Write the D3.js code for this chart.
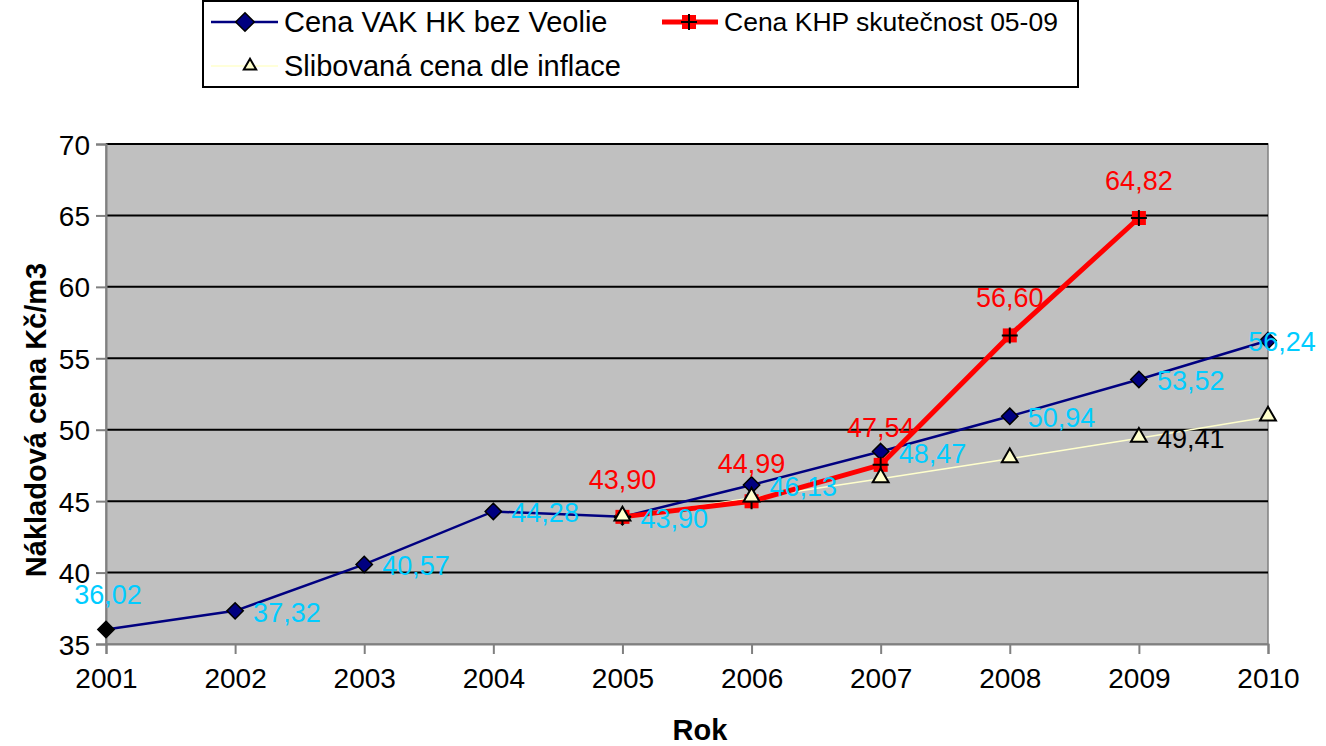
<!DOCTYPE html>
<html>
<head>
<meta charset="utf-8">
<script src="https://cdn.jsdelivr.net/npm/d3@7"></script>
<style>
	body { margin: 0; background: #fff; }
	text { font-family: "Liberation Sans", Arial, sans-serif; }
</style>
</head>
<body>
<div id="chart"></div>
<script>

var years = ["2001", "2002", "2003", "2004", "2005", "2006", "2007", "2008", "2009", "2010"];
var vakValues = [36.02, 37.32, 40.57, 44.28, 43.90, 46.13, 48.47, 50.94, 53.52, 56.24];
var khpYears = ["2005", "2006", "2007", "2008", "2009"];
var khpValues = [43.90, 44.99, 47.54, 56.60, 64.82];
var inflYears = ["2005", "2006", "2007", "2008", "2009", "2010"];
var inflValues = [43.90, 45.22, 46.57, 47.97, 49.41, 50.89];
var yTicks = [35, 40, 45, 50, 55, 60, 65, 70];

var W = 1326, H = 746,
	plot = {left: 106, right: 1268, top: 144, bottom: 644};

var fmt = function(v) { return v.toFixed(2).replace(".", ","); };

var svg = d3.select("#chart").append("svg")
	.attr("width", W)
	.attr("height", H);

var x = d3.scalePoint().domain(years).range([plot.left, plot.right]);
var y = d3.scaleLinear().domain([35, 70]).range([plot.bottom, plot.top]);

// plot background
svg.append("rect")
	.attr("x", plot.left).attr("y", plot.top)
	.attr("width", plot.right - plot.left).attr("height", plot.bottom - plot.top)
	.attr("fill", "#c0c0c0")
	.attr("stroke", "#808080").attr("stroke-width", 1.5);

// grid lines
svg.append("g").selectAll("line")
	.data(yTicks.filter(function(d) { return d > 35; }))
	.enter().append("line")
	.attr("x1", plot.left).attr("x2", plot.right)
	.attr("y1", function(d) { return y(d); }).attr("y2", function(d) { return y(d); })
	.attr("stroke", "#000").attr("stroke-width", 2);

// axes
var yAxis = svg.append("g")
	.attr("transform", "translate(" + plot.left + ",0)")
	.call(d3.axisLeft(y).tickValues(yTicks).tickSize(10).tickPadding(6));

var xAxis = svg.append("g")
	.attr("transform", "translate(0," + plot.bottom + ")")
	.call(d3.axisBottom(x).tickSize(10).tickPadding(14));

[yAxis, xAxis].forEach(function(a) {
	a.select(".domain").attr("stroke", "#808080").attr("stroke-width", 2);
	a.selectAll(".tick line").attr("stroke", "#808080").attr("stroke-width", 2);
	a.selectAll(".tick text").attr("fill", "#000").style("font-size", "28px")
		.style("font-family", "'Liberation Sans', Arial, sans-serif");
});
yAxis.selectAll(".tick text").attr("dy", "0.36em");
xAxis.selectAll(".tick text").attr("dy", "0.71em");

// axis titles
svg.append("text")
	.attr("x", (plot.left + plot.right) / 2 + 13).attr("y", 740)
	.attr("text-anchor", "middle")
	.style("font-size", "29px").style("font-weight", "bold")
	.text("Rok");

svg.append("text")
	.attr("transform", "translate(46," + ((plot.top + plot.bottom) / 2 + 26) + ") rotate(-90)")
	.attr("text-anchor", "middle")
	.style("font-size", "29px").style("font-weight", "bold")
	.text("Nákladová cena Kč/m3");

var line = d3.line()
	.x(function(d) { return x(d[0]); })
	.y(function(d) { return y(d[1]); });

var vak = d3.zip(years, vakValues),
	khp = d3.zip(khpYears, khpValues),
	infl = d3.zip(inflYears, inflValues);

var diamond = d3.symbol().type(d3.symbolDiamond2).size(170);
var triangle = d3.symbol().type(d3.symbolTriangle2).size(180);

// inflation series
svg.append("path").datum(infl)
	.attr("d", line).attr("fill", "none")
	.attr("stroke", "#ffffcc").attr("stroke-width", 1.5);

// VAK series
svg.append("path").datum(vak)
	.attr("d", line).attr("fill", "none")
	.attr("stroke", "#000080").attr("stroke-width", 2.5);

// KHP series
svg.append("path").datum(khp)
	.attr("d", line).attr("fill", "none")
	.attr("stroke", "#ff0000").attr("stroke-width", 5);

function drawSquarePlus(g, px, py) {
	g.append("rect")
		.attr("x", px - 7).attr("y", py - 7).attr("width", 14).attr("height", 14)
		.attr("fill", "#ff0000");
	g.append("path")
		.attr("d", "M" + (px - 8) + "," + py + "H" + (px + 8) + "M" + px + "," + (py - 8) + "V" + (py + 8))
		.attr("stroke", "#000").attr("stroke-width", 2);
}

// VAK markers
svg.append("g").selectAll("path")
	.data(vak).enter().append("path")
	.attr("d", diamond)
	.attr("transform", function(d) { return "translate(" + x(d[0]) + "," + y(d[1]) + ")"; })
	.attr("fill", function(d, i) { return i === 0 ? "#000" : "#000080"; })
	.attr("stroke", "#000").attr("stroke-width", 1.5);

// KHP markers
var khpG = svg.append("g");
khp.forEach(function(d) { drawSquarePlus(khpG, x(d[0]), y(d[1])); });

// inflation markers
svg.append("g").selectAll("path")
	.data(infl).enter().append("path")
	.attr("d", triangle)
	.attr("transform", function(d) { return "translate(" + x(d[0]) + "," + (y(d[1]) - 1) + ")"; })
	.attr("fill", "#ffffcc")
	.attr("stroke", "#000").attr("stroke-width", 2);

// labels
svg.append("g").selectAll("text")
	.data(vak).enter().append("text")
	.attr("x", function(d, i) {
		if (i === 0) return x(d[0]) + 2;
		if (i === vak.length - 1) return x(d[0]) + 14;
		return x(d[0]) + 18;
	})
	.attr("y", function(d, i) {
		if (i === 0) return y(d[1]) - 25;
		if (i === vak.length - 1) return y(d[1]) + 10;
		return y(d[1]) + 11;
	})
	.attr("text-anchor", function(d, i) { return (i === 0 || i === vak.length - 1) ? "middle" : "start"; })
	.attr("fill", "#00ccff")
	.style("font-size", "27px")
	.text(function(d) { return fmt(d[1]); });

svg.append("g").selectAll("text")
	.data(khp).enter().append("text")
	.attr("x", function(d) { return x(d[0]); })
	.attr("y", function(d) { return y(d[1]) - 28; })
	.attr("text-anchor", "middle")
	.attr("fill", "#ff0000")
	.style("font-size", "27px")
	.text(function(d) { return fmt(d[1]); });

svg.append("text")
	.attr("x", x("2009") + 18).attr("y", y(49.41) + 10)
	.attr("fill", "#000")
	.style("font-size", "27px")
	.text(fmt(49.41));

// legend
var lg = svg.append("g");
lg.append("rect")
	.attr("x", 203).attr("y", 1).attr("width", 875).attr("height", 86)
	.attr("fill", "#fff").attr("stroke", "#000").attr("stroke-width", 2);

var l1 = lg.append("g");
l1.append("line").attr("x1", 211).attr("x2", 278).attr("y1", 22).attr("y2", 22)
	.attr("stroke", "#000080").attr("stroke-width", 2.5);
l1.append("path").attr("d", d3.symbol().type(d3.symbolDiamond2).size(220)).attr("transform", "translate(245,22)")
	.attr("fill", "#000080").attr("stroke", "#000").attr("stroke-width", 1.5);
l1.append("text").attr("x", 284).attr("y", 32).style("font-size", "29px")
	.text("Cena VAK HK bez Veolie");

var l2 = lg.append("g");
l2.append("line").attr("x1", 662).attr("x2", 718).attr("y1", 22).attr("y2", 22)
	.attr("stroke", "#ff0000").attr("stroke-width", 5);
drawSquarePlus(l2, 689, 22);
l2.append("text").attr("x", 724).attr("y", 31).style("font-size", "26.5px")
	.text("Cena KHP skutečnost 05-09");

var l3 = lg.append("g");
l3.append("line").attr("x1", 211).attr("x2", 278).attr("y1", 66).attr("y2", 66)
	.attr("stroke", "#ffffcc").attr("stroke-width", 1.5);
l3.append("path").attr("d", d3.symbol().type(d3.symbolTriangle2).size(110))
	.attr("transform", "translate(250,66)")
	.attr("fill", "#ffffcc").attr("stroke", "#000").attr("stroke-width", 2);
l3.append("text").attr("x", 284).attr("y", 76).style("font-size", "29px")
	.text("Slibovaná cena dle inflace");

</script>
</body>
</html>
